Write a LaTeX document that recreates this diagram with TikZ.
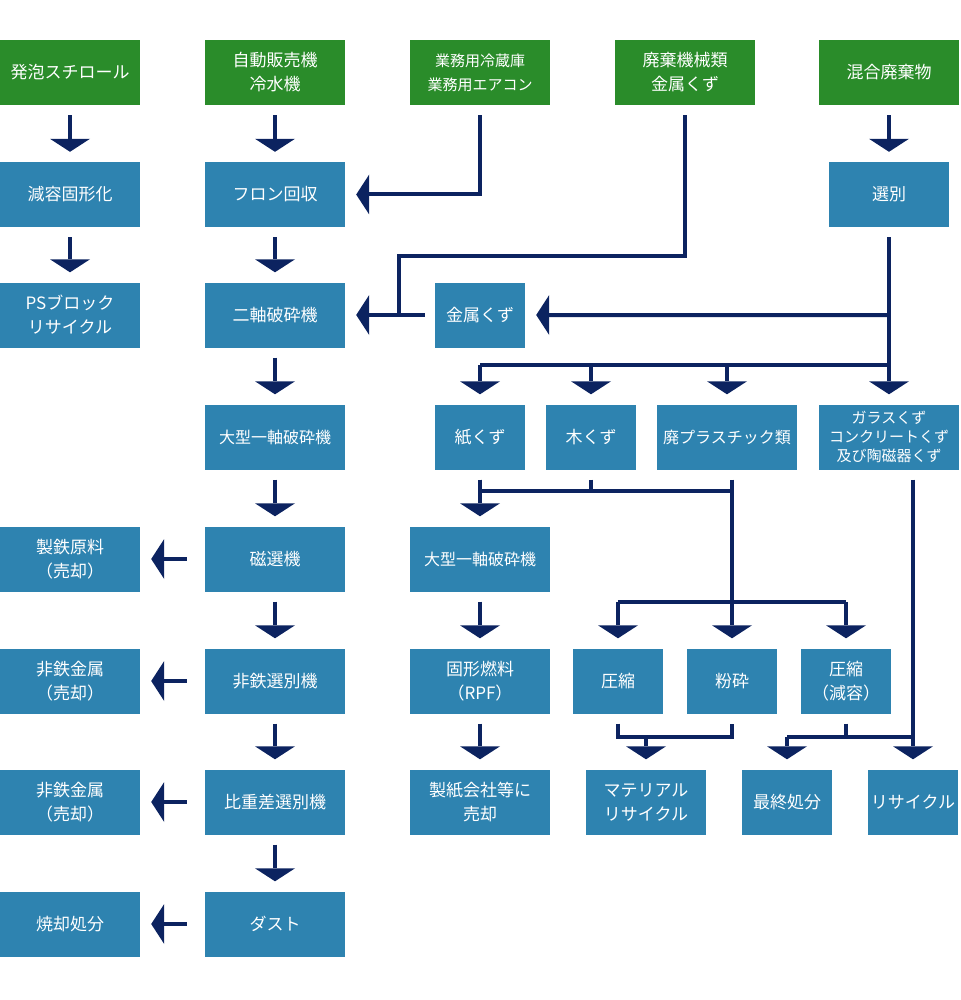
\documentclass[tikz,border=0pt]{standalone}
\usepackage{fontspec}
\setmainfont{Noto Sans CJK JP}
\usetikzlibrary{arrows.meta,calc}
\definecolor{gbox}{HTML}{2A8C2A}
\definecolor{bbox}{HTML}{2E83B0}
\definecolor{navy}{HTML}{0C2360}
\begin{document}
\begin{tikzpicture}[x=1pt,y=-1pt,
  base/.style={text=white,minimum height=65pt,inner sep=0pt,align=center,font=\fontsize{17}{24}\selectfont},
  gb/.style={base,fill=gbox,minimum width=140pt},
  bb/.style={base,fill=bbox,minimum width=140pt},
  w90/.style={minimum width=90pt},
  w120/.style={minimum width=120pt},
  small/.style={font=\fontsize{15}{19}\selectfont},
  ln/.style={draw=navy,line width=4pt,line join=miter},
  arr/.style={ln,-{Triangle[width=40pt,length=13pt,line width=0pt]}}]
\useasboundingbox (0,0) rectangle (960,1000);
% row 1
\node[gb] (g1) at (70,72.5) {発泡スチロール};
\node[gb] (g2) at (275,72.5) {自動販売機\\冷水機};
\node[gb,font=\fontsize{15}{24}\selectfont] (g3) at (480,72.5) {業務用冷蔵庫\\業務用エアコン};
\node[gb] (g4) at (685,72.5) {廃棄機械類\\金属くず};
\node[gb] (g5) at (889,72.5) {混合廃棄物};
% row 2
\node[bb] (b1) at (70,194.5) {減容固形化};
\node[bb] (b2) at (275,194.5) {フロン回収};
\node[bb,w120] (sen) at (889,194.5) {選別};
% row 3
\node[bb] (b3) at (70,315) {PSブロック\\リサイクル};
\node[bb] (niji) at (275,315) {二軸破砕機};
\node[bb,w90] (kin) at (480,315) {金属くず};
% row 4
\node[bb,font=\fontsize{16}{24}\selectfont] (oo1) at (275,437) {大型一軸破砕機};
\node[bb,w90] (kami) at (480,437) {紙くず};
\node[bb,w90] (ki) at (591,437) {木くず};
\node[bb,font=\fontsize{16}{24}\selectfont] (pura) at (727,437) {廃プラスチック類};
\node[bb,small] (gara) at (889,437) {ガラスくず\\コンクリートくず\\及び陶磁器くず};
% row 5
\node[bb] (seitetsu) at (70,559) {製鉄原料\\（売却）};
\node[bb] (jisen) at (275,559) {磁選機};
\node[bb,font=\fontsize{16}{24}\selectfont] (oo2) at (480,559) {大型一軸破砕機};
% row 6
\node[bb] (hi1) at (70,681) {非鉄金属\\（売却）};
\node[bb] (hisen) at (275,681) {非鉄選別機};
\node[bb] (rpf) at (480,681) {固形燃料\\（RPF）};
\node[bb,w90] (ass) at (618,681) {圧縮};
\node[bb,w90] (fun) at (732,681) {粉砕};
\node[bb,w90] (gen) at (846,681) {圧縮\\（減容）};
% row 7
\node[bb] (hi2) at (70,802) {非鉄金属\\（売却）};
\node[bb] (hiju) at (275,802) {比重差選別機};
\node[bb] (seishi) at (480,802) {製紙会社等に\\売却};
\node[bb,w120] (mat) at (646,802) {マテリアル\\リサイクル};
\node[bb,w90] (sai) at (787,802) {最終処分};
\node[bb,w90] (rec) at (913,802) {リサイクル};
% row 8
\node[bb] (shou) at (70,924) {焼却処分};
\node[bb] (dust) at (275,924) {ダスト};
% vertical arrows
\foreach \a/\b in {g1/b1,b1/b3,g2/b2,b2/niji,niji/oo1,oo1/jisen,jisen/hisen,hisen/hiju,hiju/dust,g5/sen,kami/oo2,oo2/rpf,rpf/seishi}
  \draw[arr] ($(\a.south)+(0,10)$) -- ($(\b.north)+(0,-10)$);
% left arrows
\foreach \a/\b in {jisen/seitetsu,hisen/hi1,hiju/hi2,dust/shou}
  \draw[arr] ($(\a.west)+(-18,0)$) -- ($(\b.east)+(11,0)$);
% g3 to b2
\draw[arr] ($(g3.south)+(0,10)$) |- ($(b2.east)+(11,0)$);
% g4 to niji
\coordinate (j1) at (399,256);
\coordinate (j2) at (399,315);
\draw[ln] ($(g4.south)+(0,10)$) |- (j1) -- (j2);
\draw[arr] ($(kin.west)+(-10,0)$) -- ($(niji.east)+(11,0)$);
% sen branches
\coordinate (s1) at (889,365);
\draw[arr] ($(sen.south)+(0,10)$) -- ($(gara.north)+(0,-10)$);
\draw[arr] ($(sen.south)+(0,88)$) -- ($(kin.east)+(11,0)$);
\draw[ln] (s1) -- (s1 -| kami.north);
\foreach \t in {kami,ki,pura}
  \draw[arr] (s1 -| \t.north) -- ($(\t.north)+(0,-10)$);
% paper / wood / plastic
\coordinate (h1) at (480,491);
\draw[ln] ($(kami.south)+(0,10)$) -- (h1) -- (h1 -| fun.north);
\draw[ln] ($(ki.south)+(0,10)$) -- (h1 -| ki.south);
\draw[arr] ($(pura.south -| fun.north)+(0,10)$) -- ($(fun.north)+(0,-10)$);
\coordinate (h2) at (618,602);
\draw[ln] (h2) -- (h2 -| gen.north);
\draw[arr] (h2) -- ($(ass.north)+(0,-10)$);
\draw[arr] (h2 -| gen.north) -- ($(gen.north)+(0,-10)$);
% compress / crush to material
\coordinate (h3) at (618,737);
\draw[ln] ($(ass.south)+(0,10)$) -- (h3) -- (h3 -| fun.south) -- ($(fun.south)+(0,10)$);
\draw[arr] (h3 -| mat.north) -- ($(mat.north)+(0,-10)$);
% reduce to final / recycle
\coordinate (h4) at (787,737);
\draw[ln] ($(gen.south)+(0,10)$) -- (h4 -| gen.south);
\draw[ln] (h4) -- (h4 -| rec.north);
\draw[arr] (h4) -- ($(sai.north)+(0,-10)$);
\draw[arr] ($(gara.south -| rec.north)+(0,10)$) -- ($(rec.north)+(0,-10)$);
\end{tikzpicture}
\end{document}
